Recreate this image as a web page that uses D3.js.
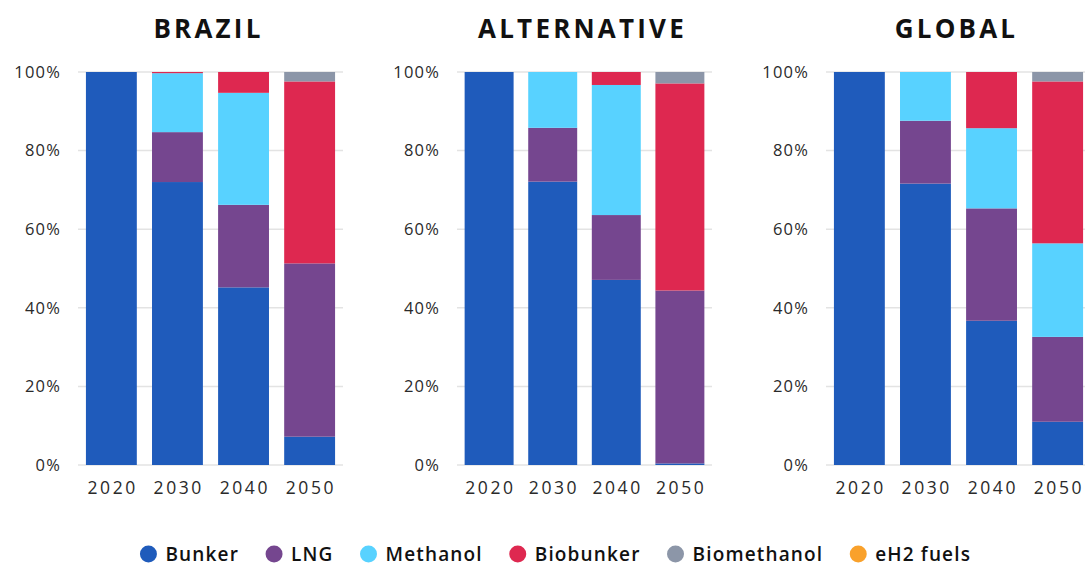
<!DOCTYPE html>
<html>
<head>
<meta charset="utf-8">
<script src="https://cdn.jsdelivr.net/npm/d3@7"></script>
<style>
  html, body { margin: 0; padding: 0; background: #fff; }
  svg { display: block; }
  text { font-family: "Open Sans", "Noto Sans", sans-serif; }
</style>
</head>
<body>
<svg id="chart" width="1085" height="567"></svg>
<script>
// ---------- DATA ----------
const years = ["2020", "2030", "2040", "2050"];
const fuels = ["Bunker", "LNG", "Methanol", "Biobunker", "Biomethanol", "eH2 fuels"];
const fuelColors = ["#1f5bbb", "#75468f", "#58d2ff", "#de2850", "#8c96a8", "#f9a12b"];
const panelTitles = ["BRAZIL", "ALTERNATIVE", "GLOBAL"];
const yTicks = [0, 20, 40, 60, 80, 100];

// Shares in % per year (2020, 2030, 2040, 2050)
const brazilBunker      = [100, 72.0, 45.2, 7.2];
const brazilLNG         = [0, 12.7, 21.0, 44.1];
const brazilMethanol    = [0, 15.0, 28.5, 0];
const brazilBiobunker   = [0, 0.3, 5.3, 46.3];
const brazilBiomethanol = [0, 0, 0, 2.4];
const brazilEH2         = [0, 0, 0, 0];

const altBunker      = [100, 72.1, 47.1, 0.4];
const altLNG         = [0, 13.7, 16.5, 44.0];
const altMethanol    = [0, 14.2, 33.1, 0];
const altBiobunker   = [0, 0, 3.3, 52.7];
const altBiomethanol = [0, 0, 0, 2.9];
const altEH2         = [0, 0, 0, 0];

const globalBunker      = [100, 71.6, 36.7, 11.0];
const globalLNG         = [0, 16.0, 28.6, 21.6];
const globalMethanol    = [0, 12.4, 20.4, 23.8];
const globalBiobunker   = [0, 0, 14.3, 41.2];
const globalBiomethanol = [0, 0, 0, 2.4];
const globalEH2         = [0, 0, 0, 0];

const panelSeries = [
  [brazilBunker, brazilLNG, brazilMethanol, brazilBiobunker, brazilBiomethanol, brazilEH2],
  [altBunker, altLNG, altMethanol, altBiobunker, altBiomethanol, altEH2],
  [globalBunker, globalLNG, globalMethanol, globalBiobunker, globalBiomethanol, globalEH2]
];

// ---------- LAYOUT ----------
const svg = d3.select("#chart");
const plotTop = 72, plotBottom = 465;
const panelRanges = [[78, 343], [457, 712], [826, 1091]];

const color = d3.scaleOrdinal().domain(fuels).range(fuelColors);
const y = d3.scaleLinear().domain([0, 100]).range([plotBottom, plotTop]);

panelSeries.forEach((series, pi) => {
  const [x0, x1] = panelRanges[pi];
  const x = d3.scaleBand().domain(years).range([x0, x1]).paddingInner(0.23).paddingOuter(0.12);
  const g = svg.append("g");

  // Title
  g.append("text")
    .attr("x", (x0 + x1) / 2 - 2)
    .attr("y", 38)
    .attr("text-anchor", "middle")
    .attr("font-size", 26)
    .attr("font-weight", 700)
    .attr("letter-spacing", 3.2)
    .attr("fill", "#111")
    .text(panelTitles[pi]);

  // Gridlines
  g.selectAll(".grid").data(yTicks).join("line")
    .attr("x1", x0).attr("x2", Math.min(x1, 1085))
    .attr("y1", d => y(d)).attr("y2", d => y(d))
    .attr("stroke", "#e3e3e3").attr("stroke-width", 1.5);

  // Y axis labels
  const yAxis = d3.axisLeft(y).tickValues(yTicks).tickFormat(d => d + "%").tickSize(0).tickPadding(17);
  const ya = g.append("g").attr("transform", `translate(${x0},0)`).call(yAxis);
  ya.select(".domain").remove();
  ya.selectAll("text").attr("font-size", 16.5).attr("fill", "#2a2a2a")
    .attr("letter-spacing", 1.2)
    .style("font-family", '"Open Sans", sans-serif');

  // X axis labels
  const xAxis = d3.axisBottom(x).tickSize(0).tickPadding(17);
  const xa = g.append("g").attr("transform", `translate(0,${plotBottom})`).call(xAxis);
  xa.select(".domain").remove();
  xa.selectAll("text").attr("font-size", 17.5).attr("fill", "#2a2a2a")
    .attr("letter-spacing", 2.6).attr("dx", 1.3)
    .style("font-family", '"Open Sans", sans-serif');

  // Stacked data
  const rows = years.map((yr, i) => {
    const o = { year: yr };
    fuels.forEach((f, k) => { o[f] = series[k][i]; });
    return o;
  });
  const stacked = d3.stack().keys(fuels)(rows);

  g.selectAll(".layer").data(stacked).join("g")
    .attr("fill", d => color(d.key))
    .selectAll("rect").data(d => d).join("rect")
    .attr("x", d => x(d.data.year))
    .attr("width", x.bandwidth())
    .attr("y", d => y(d[1]))
    .attr("height", d => Math.max(0, y(d[0]) - y(d[1])));
});

// ---------- LEGEND ----------
const legend = svg.append("g");
const legendY = 554;
const items = [];
fuels.forEach((f, i) => {
  const it = legend.append("g");
  it.append("circle").attr("cx", 0).attr("cy", 0).attr("r", 8.5).attr("fill", color(f));
  const t = it.append("text").attr("x", 17).attr("y", 0).attr("dy", "0.35em")
    .attr("font-size", 19).attr("font-weight", 600).attr("letter-spacing", 1.15)
    .attr("fill", "#111").text(f);
  const w = 17 + t.node().getComputedTextLength();
  items.push({ it, w });
});
const gap = 35;
const total = d3.sum(items, d => d.w) + gap * (items.length - 1) + 8.5;
let xPos = 555.5 - total / 2 + 8.5;
items.forEach(d => {
  d.it.attr("transform", `translate(${xPos},${legendY})`);
  xPos += d.w + gap;
});
</script>
</body>
</html>
